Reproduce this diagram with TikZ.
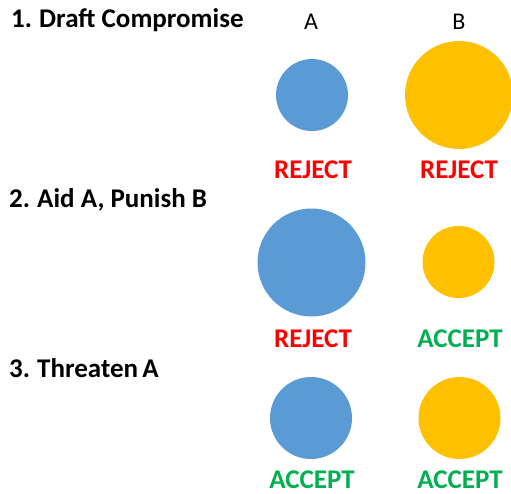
\documentclass[tikz,border=0pt]{standalone}
\usepackage{fontspec}
\setmainfont{Carlito}
\definecolor{cblue}{HTML}{5B9BD5}
\definecolor{cyel}{HTML}{FFC000}
\definecolor{cred}{HTML}{FF0000}
\definecolor{cgreen}{HTML}{00B050}
\begin{document}
\begin{tikzpicture}[x=1pt,y=-1pt,
  title/.style={anchor=base west,inner sep=0pt,font=\fontsize{27}{31}\selectfont\bfseries},
  head/.style={anchor=base,inner sep=0pt,font=\fontsize{24}{28}\selectfont},
  rej/.style={anchor=base,inner sep=0pt,text=cred,font=\fontsize{27}{31}\selectfont\bfseries},
  acc/.style={anchor=base,inner sep=0pt,text=cgreen,font=\fontsize{27}{31}\selectfont\bfseries},
  ba/.style={circle,fill=cblue,inner sep=0pt,minimum size=#1},
  bb/.style={circle,fill=cyel,inner sep=0pt,minimum size=#1}]
\useasboundingbox (0,0) rectangle (511,493);
\clip (0,0) rectangle (511,493);
\node[title] (t1) at (11,27) {1.\hspace{-1pt} Draft Compromise};
\node[head] (hA) at (311,29) {A};
\node[head] (hB) at (459,29) {B};
\node[ba=72pt] (a1) at (312,95) {};
\node[bb=108pt] (b1) at (459,95) {};
\node[rej] (ra1) at (313,178) {REJECT};
\node[rej] (rb1) at (459,178) {REJECT};
\node[title] (t2) at (9,207) {2.\hspace{-1pt} Aid A, Punish B};
\node[ba=108pt] (a2) at (311.5,262.5) {};
\node[bb=72pt] (b2) at (458.5,262) {};
\node[rej] (ra2) at (313,347) {REJECT};
\node[acc] (rb2) at (460,347) {ACCEPT};
\node[title] (t3) at (9,377) {3.\hspace{-1pt} Threaten\hspace{-2pt} A};
\node[ba=82pt] (a3) at (311,418) {};
\node[bb=82pt] (b3) at (459.5,418) {};
\node[acc] (ra3) at (312,488) {ACCEPT};
\node[acc] (rb3) at (460,488) {ACCEPT};
\end{tikzpicture}
\end{document}
